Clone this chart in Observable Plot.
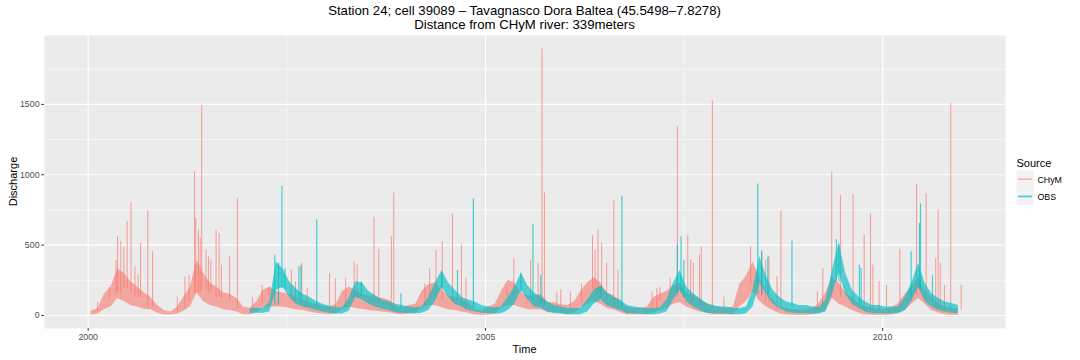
<!DOCTYPE html>
<html><head><meta charset="utf-8">
<script src="https://cdn.jsdelivr.net/npm/d3@7"></script>
<script src="https://cdn.jsdelivr.net/npm/@observablehq/plot@0.6"></script>
<style>
body{margin:0;background:#fff;}
#wrap{position:relative;width:1080px;height:360px;overflow:hidden;font-family:"Liberation Sans",Arial,Helvetica,sans-serif;}
#chart svg{display:block;}
#overlay{position:absolute;left:0;top:0;pointer-events:none;}
</style></head><body>
<div id="wrap"><div id="chart"></div>
<svg id="overlay" width="1080" height="360" font-family="Liberation Sans, Arial, sans-serif">
  <text x="524.5" y="15" text-anchor="middle" font-size="13.2" fill="#000">Station 24; cell 39089 – Tavagnasco Dora Baltea (45.5498–7.8278)</text>
  <text x="524.5" y="29" text-anchor="middle" font-size="13.2" fill="#000">Distance from CHyM river: 339meters</text>
  <text x="524.5" y="352.5" text-anchor="middle" font-size="11" fill="#000">Time</text>
  <text transform="translate(16.5,181.5) rotate(-90)" text-anchor="middle" font-size="11" fill="#000">Discharge</text>
  <g id="legend"></g>
</svg>
</div>
<script>
// ---- data ----
const seriesNames = ["CHyM", "OBS"];
const seriesColors = ["#F8766D", "#00BFC4"];
const seriesPeriod = ["2000-01-01", "2010-12-31"];
const chymStartYear = 2000;
const obsStartYear = 2002;
// monthly envelope of the daily discharge (low / high of the dense band), Jan 2000 .. Dec 2010
const chymLo = [
  5,10,40,60,120,100,70,60,45,40,15,5,
  3,10,30,60,160,100,70,60,40,35,25,5,
  5,20,50,60,60,60,50,40,35,25,15,10,
  5,10,40,60,50,45,35,30,25,20,10,5,
  10,15,50,70,70,55,40,35,25,15,3,2,
  3,10,50,70,70,55,40,40,40,20,20,15,
  5,15,50,80,100,80,50,40,20,5,5,5,
  5,15,35,50,80,90,60,40,25,15,5,5,
  5,5,60,100,170,100,60,35,12,5,2,2,
  2,5,15,35,120,80,60,35,15,5,2,2,
  2,5,15,35,80,120,80,35,15,5,2,2];
const chymHi = [
  30,50,150,200,330,300,240,200,160,130,70,35,
  25,60,130,200,390,300,230,200,160,150,120,60,
  50,100,180,200,170,160,150,130,110,90,80,60,
  60,80,170,200,180,150,140,130,120,110,70,50,
  70,80,170,220,230,180,140,130,110,90,40,30,
  60,80,170,250,230,160,140,140,150,90,90,75,
  70,100,170,230,270,230,160,140,90,60,50,50,
  60,130,150,170,210,230,160,140,110,85,60,60,
  50,60,220,280,380,270,170,110,60,50,40,40,
  40,50,85,160,270,230,160,120,85,60,50,45,
  45,55,85,150,200,270,180,130,85,60,50,50];
// Jan 2002 .. Dec 2010
const obsLo = [
  15,15,15,25,180,200,130,80,60,50,35,25,
  15,10,10,30,130,110,80,60,45,35,20,15,
  12,10,15,35,100,200,130,80,60,35,25,15,
  12,10,12,35,80,180,110,60,50,25,12,10,
  5,5,5,25,80,110,70,50,35,12,10,10,
  5,5,10,25,110,180,95,60,35,15,12,10,
  10,5,5,12,60,230,155,80,50,25,15,12,
  12,10,10,25,150,300,150,80,50,25,12,12,
  10,10,12,35,100,200,100,60,35,25,15,12];
const obsHi = [
  50,50,50,90,380,330,240,190,150,130,100,80,
  65,55,55,120,240,230,170,140,110,95,80,70,
  60,55,60,130,230,320,230,180,130,110,95,70,
  60,55,60,130,200,300,210,160,130,95,70,60,
  50,50,50,110,180,210,160,130,110,70,60,55,
  50,50,55,110,230,320,200,155,120,85,70,60,
  60,50,50,60,180,420,280,180,130,95,85,70,
  70,60,55,110,320,520,300,180,130,95,70,70,
  60,60,60,130,230,370,230,155,120,95,85,70];
// single-day peaks
const chymSpikeDates = [
  "2000-02-13","2000-04-07","2000-05-08","2000-05-15","2000-05-30","2000-06-13","2000-06-28","2000-07-16","2000-08-03","2000-08-18","2000-08-29","2000-10-01","2000-10-23",
  "2001-02-14","2001-03-21","2001-04-09","2001-05-04","2001-05-10","2001-05-22","2001-05-30","2001-06-06","2001-06-26","2001-07-07","2001-07-18","2001-08-11","2001-08-25","2001-09-05","2001-10-12","2001-11-17",
  "2002-01-26","2002-03-11","2002-04-10","2002-07-23","2002-08-11","2002-09-09","2002-10-04",
  "2003-01-15","2003-02-10","2003-03-30","2003-05-08","2003-05-22","2003-08-07","2003-08-29","2003-10-26","2003-11-06",
  "2004-03-28","2004-04-19","2004-05-18","2004-06-16","2004-08-02","2004-09-12","2004-10-03",
  "2005-04-09","2005-05-11","2005-07-27","2005-08-31","2005-09-18","2005-09-29","2005-11-25","2005-12-13",
  "2006-01-26","2006-03-18","2006-05-08","2006-05-20","2006-06-02","2006-06-19","2006-07-12","2006-08-14","2006-09-02",
  "2007-02-06","2007-02-28","2007-03-14","2007-04-30","2007-06-02","2007-07-20","2007-08-02","2007-08-14","2007-09-12","2007-09-20","2007-11-10",
  "2008-01-02","2008-05-04","2008-06-24","2008-07-12","2008-07-27","2008-09-02","2008-09-20",
  "2009-03-07","2009-04-01","2009-05-12","2009-06-21","2009-08-18","2009-10-08","2009-11-06","2009-11-17","2009-12-16",
  "2010-01-19","2010-03-21","2010-06-06","2010-07-20","2010-09-02","2010-09-13","2010-09-23","2010-10-12","2010-11-10","2010-12-28"];
const chymSpikeValues = [
  95,200,390,560,525,490,667,800,345,286,512,743,452,
  130,274,286,1024,690,607,548,1493,464,417,393,607,583,357,417,833,
  130,214,200,320,240,370,190,
  300,262,262,380,357,698,470,560,870,
  225,333,464,524,720,500,262,
  200,405,393,370,1895,870,167,180,
  167,225,567,464,607,512,370,814,320,
  167,190,200,262,1345,570,393,370,430,490,1524,
  130,490,464,393,417,275,743,
  167,333,1020,852,857,570,720,357,240,
  214,471,929,864,405,750,370,214,1507,214];
const obsSpikeDates = [
  "2002-05-08","2002-05-25","2002-06-10","2002-06-24","2002-08-27","2002-09-05","2002-11-17",
  "2003-06-10","2003-12-09",
  "2004-06-13","2004-08-25","2004-11-06",
  "2005-06-13","2005-08-07","2005-09-12",
  "2006-06-14","2006-09-20",
  "2007-06-02","2007-06-19","2007-07-02",
  "2008-06-06","2008-06-24","2008-07-22","2008-11-10",
  "2009-06-02","2009-06-14","2009-09-16","2009-09-24",
  "2010-05-12","2010-06-19","2010-06-24","2010-08-18"];
const obsSpikeValues = [
  430,370,917,333,345,357,680,
  240,155,
  300,320,830,
  300,648,285,
  200,845,
  500,560,393,
  935,452,415,530,
  540,500,357,333,
  452,655,793,285];
const yTicks = [0, 500, 1000, 1500];
const yMinor = [250, 750, 1250, 1750];
const xTicks = ["2000-01-01", "2005-01-01", "2010-01-01"];
const xMinor = ["2002-07-02", "2007-07-02"];

// ---- build tables ----
const parse = d3.utcParse("%Y-%m-%d");
function months(startYear, lo, hi) {
  return lo.map((v, i) => ({date: new Date(Date.UTC(startYear, i, 15)), lo: v, hi: hi[i]}));
}
function spikes(dates, values, startYear, hi) {
  const n = hi.length;
  const at = k => hi[Math.max(0, Math.min(n - 1, k))];
  return dates.map((s, i) => {
    const d = parse(s);
    const k = (d.getUTCFullYear() - startYear) * 12 + d.getUTCMonth();
    // start the peak inside the band: the lowest band top around that month
    return {date: d, base: Math.min(at(k - 1), at(k), at(k + 1)) * 0.8, peak: values[i]};
  });
}
const chymM = months(chymStartYear, chymLo, chymHi);
const obsM = months(obsStartYear, obsLo, obsHi);
const chymS = spikes(chymSpikeDates, chymSpikeValues, chymStartYear, chymHi);
const obsS = spikes(obsSpikeDates, obsSpikeValues, obsStartYear, obsHi);

// ggplot-like 5% expansion
const t0 = parse(seriesPeriod[0]), t1 = parse(seriesPeriod[1]);
const tSpan = t1 - t0;
const xDomain = [new Date(+t0 - 0.05 * tSpan), new Date(+t1 + 0.05 * tSpan)];
const yMin = d3.min([...chymLo, ...obsLo]);
const yMax = d3.max([...chymSpikeValues, ...obsSpikeValues, ...chymHi, ...obsHi]);
const ySpan = yMax - yMin;
const yDomain = [yMin - 0.05 * ySpan, yMax + 0.05 * ySpan];

const alpha = 0.7;
const plot = Plot.plot({
  width: 1080, height: 360,
  marginLeft: 44, marginRight: 75, marginTop: 35, marginBottom: 32,
  style: {fontFamily: "Liberation Sans, Arial, sans-serif", background: "white"},
  x: {type: "utc", domain: xDomain},
  y: {domain: yDomain},
  marks: [
    Plot.frame({fill: "#EBEBEB", stroke: "none"}),
    Plot.ruleY(yMinor, {stroke: "white", strokeWidth: 0.55}),
    Plot.ruleX(xMinor.map(parse), {stroke: "white", strokeWidth: 0.55}),
    Plot.ruleY(yTicks, {stroke: "white", strokeWidth: 1.1}),
    Plot.ruleX(xTicks.map(parse), {stroke: "white", strokeWidth: 1.1}),
    Plot.areaY(chymM, {x: "date", y1: "lo", y2: "hi", fill: seriesColors[0], fillOpacity: 0.6}),
    Plot.ruleX(chymS, {x: "date", y1: "base", y2: "peak", stroke: seriesColors[0], strokeOpacity: alpha, strokeWidth: 1}),
    Plot.areaY(obsM, {x: "date", y1: "lo", y2: "hi", fill: seriesColors[1], fillOpacity: 0.66}),
    Plot.ruleX(obsS, {x: "date", y1: "base", y2: "peak", stroke: seriesColors[1], strokeOpacity: alpha, strokeWidth: 1.2}),
    Plot.axisY({ticks: yTicks, tickFormat: d3.format("d"), tickSize: 2.75, tickPadding: 2.2, fontSize: 8.8, fill: "#4D4D4D", stroke: "#333333", label: null}),
    Plot.axisX({ticks: xTicks.map(parse), tickFormat: d3.utcFormat("%Y"), tickSize: 2.75, tickPadding: 2.5, fontSize: 8.8, fill: "#4D4D4D", stroke: "#333333", label: null})
  ]
});
document.getElementById("chart").appendChild(plot);

// legend
const lg = d3.select("#legend");
lg.append("text").attr("x", 1016.5).attr("y", 167).attr("font-size", 11).attr("fill", "#000").text("Source");
seriesNames.forEach((name, i) => {
  const y0 = 170.5 + i * 17.3;
  lg.append("rect").attr("x", 1016.5).attr("y", y0).attr("width", 17.3).attr("height", 17.3).attr("fill", "#F2F2F2");
  lg.append("line").attr("x1", 1018.2).attr("x2", 1032.1).attr("y1", y0 + 8.65).attr("y2", y0 + 8.65)
    .attr("stroke", seriesColors[i]).attr("stroke-opacity", alpha).attr("stroke-width", i ? 1.8 : 1.1);
  lg.append("text").attr("x", 1037.5).attr("y", y0 + 12).attr("font-size", 8.8).attr("fill", "#000").text(name);
});
</script>
</body></html>
